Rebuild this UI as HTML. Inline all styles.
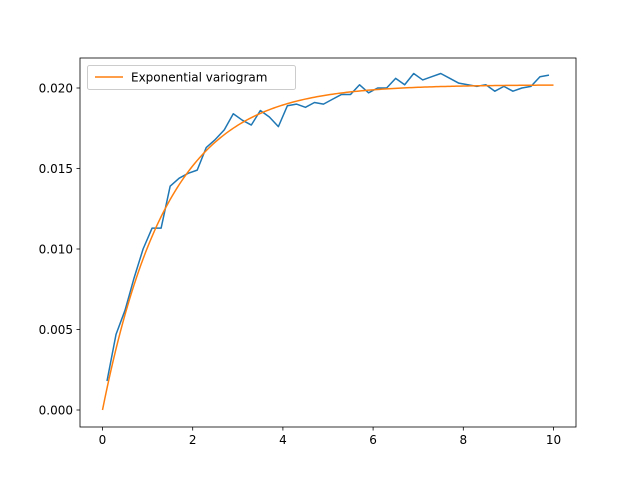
<!DOCTYPE html>
<html><head><meta charset="utf-8"><style>
body{margin:0;background:#fff;}
svg text{font-family:"DejaVu Sans","Liberation Sans",sans-serif;font-size:12px;fill:#000;}
</style></head><body>
<svg id="chart" width="640" height="480">
<rect x="0" y="0" width="640" height="480" fill="#fff"/>
<g id="plot"></g>
</svg>
<script>
const xs=[0.1,0.3,0.5,0.7,0.9,1.1,1.3,1.5,1.7,1.9,2.1,2.3,2.5,2.7,2.9,3.1,3.3,3.5,3.7,3.9,4.1,4.3,4.5,4.7,4.9,5.1,5.3,5.5,5.7,5.9,6.1,6.3,6.5,6.7,6.9,7.1,7.3,7.5,7.7,7.9,8.1,8.3,8.5,8.7,8.9,9.1,9.3,9.5,9.7,9.9];
const empirical=[0.0018,0.0047,0.0062,0.0082,0.0100,0.0113,0.0113,0.0139,0.0144,0.0147,0.0149,0.0163,0.0168,0.0174,0.0184,0.0180,0.0177,0.0186,0.0182,0.0176,0.0189,0.0190,0.0188,0.0191,0.0190,0.0193,0.0196,0.0196,0.0202,0.0197,0.0200,0.0200,0.0206,0.0202,0.0209,0.0205,0.0207,0.0209,0.0206,0.0203,0.0202,0.0201,0.0202,0.0198,0.0201,0.0198,0.0200,0.0201,0.0207,0.0208];
const modelSill=[0.0202];
const modelRange=[1.44];
const xTicks=[0,2,4,6,8,10];
const yTicks=[0,0.005,0.010,0.015,0.020];
const yTickLabels=["0.000","0.005","0.010","0.015","0.020"];

const NS="http://www.w3.org/2000/svg";
const g=document.getElementById('plot');
const L=80,R=576,T=58,B=427;
const X=v=>102.5+v*45.1;
const Y=v=>410-v*16100;
function mk(t,a,p){const e=document.createElementNS(NS,t);for(const k in a)e.setAttribute(k,a[k]);(p||g).appendChild(e);return e;}
xTicks.forEach(v=>{
  const t=mk('line',{x1:X(v),x2:X(v),y1:B,y2:B+3.5,stroke:'#000','stroke-width':0.8});
  
  
  const l=mk('text',{x:X(v),y:B+17,'text-anchor':'middle'});l.textContent=String(v);
  
  
});
yTicks.forEach((v,i)=>{
  const t=mk('line',{x1:L-3.5,x2:L,y1:Y(v),y2:Y(v),stroke:'#000','stroke-width':0.8});
  
  
  const l=mk('text',{x:L-7,y:Y(v)+4.5,'text-anchor':'end'});l.textContent=yTickLabels[i];
  
  
});
// empirical line
const ep=mk('polyline',{points:xs.map((x,i)=>X(x)+','+Y(empirical[i])).join(' '),fill:'none',stroke:'#1f77b4','stroke-width':1.5,'stroke-linejoin':'round'});


// model curve
const pts=[];
for(let i=0;i<=200;i++){const x=i*10/200;pts.push(X(x)+','+Y(modelSill[0]*(1-Math.exp(-x/modelRange[0]))));}
const mp=mk('polyline',{points:pts.join(' '),fill:'none',stroke:'#ff7f0e','stroke-width':1.5});


const fr=mk('rect',{x:L,y:T,width:R-L,height:B-T,fill:'none',stroke:'#000','stroke-width':0.8});


// legend
const lg=mk('g',{});


mk('rect',{x:87.5,y:65.5,width:208,height:24,rx:2,fill:'#fff','fill-opacity':0.8,stroke:'#ccc','stroke-width':1},lg);
const ll=mk('line',{x1:95,x2:123,y1:77,y2:77,stroke:'#ff7f0e','stroke-width':1.5},lg);


const lt=mk('text',{x:131,y:81.5},lg);lt.textContent='Exponential variogram';


</script>
</body></html>
